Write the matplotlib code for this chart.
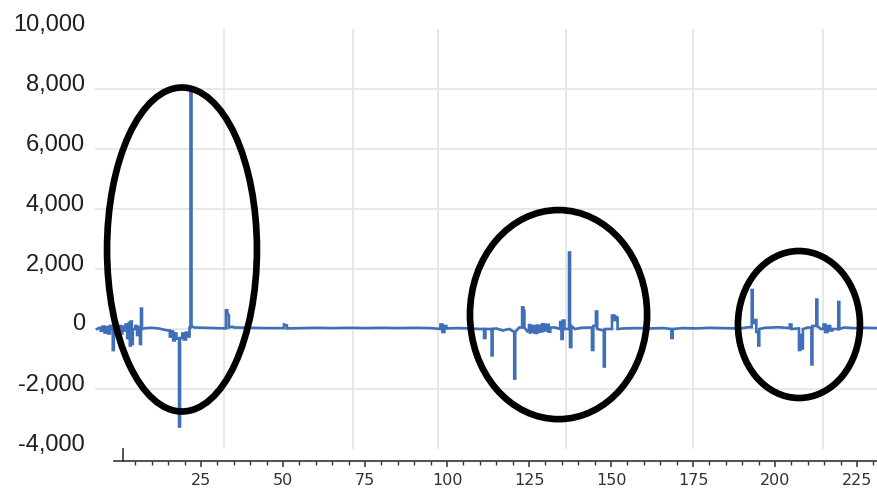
import matplotlib
matplotlib.use("Agg")
import matplotlib.pyplot as plt
from matplotlib.patches import Ellipse
from matplotlib.transforms import ScaledTranslation
from matplotlib.ticker import FuncFormatter

# ---- data: (x, value) pairs; repeated x = vertical edge
left_pts = [
    (-6.7, 0), (-6, 40), (-5.6, 40), (-5.6, -60), (-5.0, -60), (-5.0, 80),
    (-4.4, 80), (-4.4, -120), (-3.9, -120), (-3.9, 60), (-3.2, 60), (-3.2, -150),
    (-2.8, -150), (-2.8, 100), (-2.2, 100), (-2.2, 0), (-1.9, 0), (-1.9, -700),
    (-1.6, -700), (-1.6, -100), (-1.0, -100), (-1.0, 50), (-0.4, 50), (-0.4, -200),
    (0, -200), (0, 100), (0.5, 100), (0.5, -150), (1, -150), (1, 80), (1.6, 80),
    (1.6, -50), (2, -50), (2, 150), (2.5, 150), (2.5, -300), (3, -300), (3, 200),
    (3.3, 200), (3.3, -550), (3.6, -550), (3.6, 250), (3.9, 250), (3.9, -500),
    (4.2, -500), (4.2, 0), (5, 0), (5, 100), (5.5, 100), (5.5, -200), (6, -200),
    (6, 50), (6.4, 50), (6.4, -500), (6.7, -500), (6.7, 680), (7.0, 680), (7.0, 0),
    (8, 30), (10, 40), (12, 20), (14, -30), (15, -50), (15.5, -50), (15.5, -250),
    (16, -250), (16, -80), (16.5, -80), (16.5, -380), (17, -380), (17, -150),
    (17.5, -150), (17.5, -320), (18.3, -320), (18.3, -3250), (18.6, -3250),
    (18.6, -300), (19.3, -300), (19.3, -150), (19.8, -150), (19.8, -350),
    (20.4, -350), (20.4, -120), (21, -120), (21, -250), (21.5, -250), (21.5, 50),
    (21.8, 50), (21.8, 7900), (22.1, 7900), (22.1, 100), (23, 50), (26, 40),
    (30, 30), (32.6, 20), (32.6, 620), (33.0, 620), (33.0, 550), (33.5, 450),
    (33.5, 50), (34.5, 80), (35, 50),
]
mid_pts = [
    (40, 40), (45, 30), (50.3, 30), (50.3, 150), (51.2, 120), (51.2, 20), (55, 30),
    (60, 40), (65, 30), (70, 40), (75, 30), (80, 40), (85, 30), (90, 40), (95, 30),
    (98, 0), (98, 150), (98.6, 150), (98.6, -100), (99.2, -100), (99.2, 100),
    (99.8, 100), (99.8, 20), (103, 30), (107, 20), (110, 0), (111.3, 0),
    (111.3, -300), (111.7, -300), (111.7, 0), (113.6, 0), (113.6, -880),
    (113.9, -880), (113.9, 0), (115, 20), (117, -50), (119, 0), (120.5, -100),
    (120.5, -1650), (120.8, -1650), (120.8, -100), (122, 50), (122.9, 50),
    (122.9, 720), (123.3, 720), (123.3, 600), (123.6, 600), (123.6, 50),
    (124.5, -80), (125, -50), (125, 130), (125.3, 130), (125.3, -120), (126, -100),
    (126, 100), (126.8, 100), (126.8, -130), (127.5, -130), (127.5, 110),
    (128.2, 110), (128.2, -90), (129, -80), (129, 160), (129.5, 160), (129.5, -50),
    (130.3, -50), (130.3, 140), (131, 140), (131, -90), (131.5, -90), (131.5, 50),
    (133, 50), (134.5, 0), (134.5, 230), (134.9, 230), (134.9, -330),
    (135.3, -330), (135.3, 280), (135.8, 280), (135.8, 0), (137.2, 0),
    (137.2, 2550), (137.5, 2550), (137.5, -600), (137.9, -600), (137.9, 100),
    (139, 0), (141, 40), (144.2, 50), (144.2, -700), (144.6, -700), (144.6, 100),
    (145.4, 100), (145.4, 580), (145.8, 580), (145.8, 0), (147.8, -50),
    (147.8, -1250), (148.1, -1250), (148.1, 0), (150.3, 0), (150.3, 450),
    (150.8, 450), (150.8, 300), (151.4, 300), (151.4, 420), (152, 380), (152, 0),
    (154, 20), (158, 30), (162, 20), (166, 30), (168.4, 0), (168.4, -300),
    (168.8, -300), (168.8, 0), (172, 30), (176, 20), (180, 40), (184, 30),
    (188, 20),
]
right_pts = [
    (190, 30), (192, 60), (192.9, 60), (192.9, 1300), (193.2, 1300), (193.2, 200),
    (193.8, 200), (193.8, 300), (194.3, 300), (194.3, -100), (194.9, -100),
    (194.9, -550), (195.2, -550), (195.2, 0), (197, 40), (201, 60), (204.5, 30),
    (204.5, 150), (205, 150), (205, 0), (207.3, 20), (207.3, -700), (207.7, -700),
    (207.7, -200), (208.2, -200), (208.2, -650), (208.5, -650), (208.5, 0),
    (210, 50), (211.1, 50), (211.1, -1180), (211.4, -1180), (211.4, 100),
    (212.6, 100), (212.6, 980), (212.9, 980), (212.9, 100), (214, 0), (214.8, 0),
    (214.8, 150), (215.3, 150), (215.3, -100), (216, -100), (216, 100),
    (216.8, 100), (216.8, -50), (217.4, -50), (217.4, 0), (219.3, 0),
    (219.3, 900), (219.6, 900), (219.6, 0), (221, 50), (224, 30), (227, 40),
    (231.4, 30),
]

y_ticks = [-4000, -2000, 0, 2000, 4000, 6000, 8000, 10000]
y_grid = [-2000, 0, 2000, 4000, 6000, 8000]
x_grid = [32.0, 71.3, 97.3, 136.3, 175.0, 214.6]
x_major = [25, 50, 75, 100, 125, 150, 175, 200, 225]
x_minor = [v for v in range(5, 231, 5) if v % 25 != 0]

# ellipses: (center x, center y, width, height)
ell_cx = [19.2, 134.0, 207.3]
ell_cy = [2650, 480, 150]
ell_w = [45.7, 54.0, 37.2]
ell_h = [10800, 6970, 4900]

pts = left_pts + mid_pts + right_pts
x_vals = [p[0] for p in pts]
y_vals = [p[1] for p in pts]

# ---- figure -----------------------------------------------------------
fig = plt.figure(figsize=(8.78, 4.88), dpi=100)
ax = fig.add_axes([95 / 878, 1 - 449 / 488, 1 - 95 / 878, (449 - 29) / 488])
ax.set_xlim(-7.32, 231.4)
ax.set_ylim(-4000, 10000)

for g in y_grid:
    ax.axhline(g, color="#e6e6e6", lw=1.3, zorder=0)
for g in x_grid:
    ax.axvline(g, color="#e6e6e6", lw=1.3, zorder=0)

ax.plot(x_vals, y_vals, color="#3f6fb8", lw=1.9, zorder=2,
        solid_joinstyle="miter")

for cx, cy, w, h in zip(ell_cx, ell_cy, ell_w, ell_h):
    ax.add_patch(Ellipse((cx, cy), w, h, fill=False, ec="black", lw=4.8,
                         zorder=3, clip_on=False))

for s in ["top", "right", "left"]:
    ax.spines[s].set_visible(False)
ax.spines["bottom"].set_position(("outward", 8.64))
ax.spines["bottom"].set_bounds(-1.5, 231.4)
ax.spines["bottom"].set_color("#333333")
ax.spines["bottom"].set_linewidth(1.2)

ax.set_xticks(x_major)
ax.set_xticks(x_minor, minor=True)
ax.tick_params(axis="x", which="major", length=4.5, width=1.1, color="#333333",
               labelsize=11.5, labelcolor="#333333", pad=4)
ax.tick_params(axis="x", which="minor", length=3, width=1.0, color="#333333")
for lab in ax.get_xticklabels():
    lab.set_family("DejaVu Sans")

# tall starting tick
ax.plot([1.2, 1.2], [-0.0286, 0.0], transform=ax.get_xaxis_transform(),
        color="#333333", lw=1.2, clip_on=False)

ax.set_yticks(y_ticks)
ax.yaxis.set_major_formatter(FuncFormatter(lambda v, p: f"{int(v):,}"))
ax.tick_params(axis="y", length=0, pad=7.2, labelsize=17, labelcolor="#1f1f1f")
off = ScaledTranslation(0, 7 / 100, fig.dpi_scale_trans)
for t in ax.yaxis.get_major_ticks():
    t.label1.set_family("Liberation Sans")
    t.label1.set_transform(t.label1.get_transform() + off)

fig.savefig("out.png", dpi=100)
